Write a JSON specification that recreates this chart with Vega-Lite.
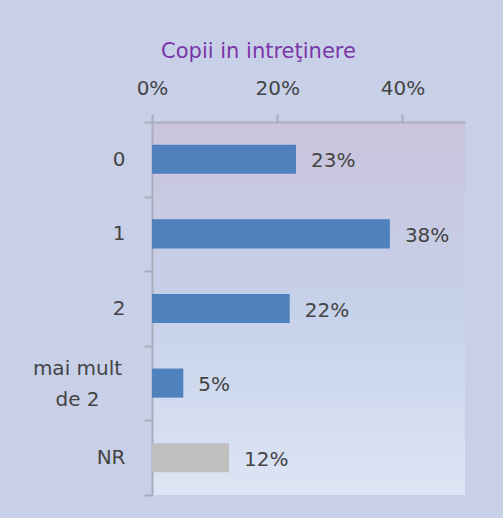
{
  "$schema": "https://vega.github.io/schema/vega-lite/v6.json",
  "autosize": {"type": "none"},
  "padding": {"left": 152, "top": 122, "right": 38, "bottom": 23},
  "width": 313,
  "height": 373,
  "background": "#C8D0E8",
  "title": {
    "text": "Copii in intreţinere",
    "color": "#7A35A8",
    "font": "DejaVu Sans",
    "fontSize": 21,
    "fontWeight": "normal",
    "anchor": "middle",
    "dx": -50,
    "offset": 16
  },
  "config": {
    "view": {
      "stroke": null,
      "fill": {
        "gradient": "linear",
        "x1": 0, "y1": 0, "x2": 0, "y2": 1,
        "stops": [
          {"offset": 0, "color": "#CBC3DC"},
          {"offset": 0.5, "color": "#C6D1EA"},
          {"offset": 1, "color": "#DDE5F4"}
        ]
      }
    },
    "axis": {
      "labelFont": "DejaVu Sans",
      "labelFontSize": 20,
      "labelColor": "#444444",
      "domainColor": "#A9ADBC",
      "domainWidth": 2,
      "tickColor": "#A9ADBC",
      "tickWidth": 2,
      "tickSize": 8,
      "grid": false,
      "title": null
    }
  },
  "data": {
    "values": [
      {"categorie": "0", "procent": 0.23, "grup": "da"},
      {"categorie": "1", "procent": 0.38, "grup": "da"},
      {"categorie": "2", "procent": 0.22, "grup": "da"},
      {"categorie": "mai mult de 2", "procent": 0.05, "grup": "da"},
      {"categorie": "NR", "procent": 0.123, "grup": "nr"}
    ]
  },
  "encoding": {
    "y": {
      "field": "categorie",
      "type": "nominal",
      "sort": null,
      "scale": {"paddingInner": 0, "paddingOuter": 0},
      "axis": {
        "orient": "left",
        "tickBand": "extent",
        "labelLineHeight": 31,
        "labelAlign": {"condition": {"test": "datum.value == 'mai mult de 2'", "value": "center"}, "value": "right"},
        "labelPadding": {"condition": {"test": "datum.value == 'mai mult de 2'", "value": 67}, "value": 19},
        "labelOffset": {"condition": {"test": "datum.value == 'mai mult de 2'", "value": -15}, "value": 0},
        "labelExpr": "datum.value == 'mai mult de 2' ? ['mai mult', 'de 2'] : datum.value"
      }
    },
    "x": {
      "field": "procent",
      "type": "quantitative",
      "scale": {"domain": [0, 0.5], "nice": false},
      "axis": {
        "orient": "top",
        "values": [0, 0.2, 0.4],
        "format": ".0%",
        "labelFlush": false,
        "labelPadding": 16
      }
    }
  },
  "layer": [
    {
      "mark": {"type": "bar", "height": {"band": 0.39}},
      "encoding": {
        "color": {
          "field": "grup",
          "type": "nominal",
          "scale": {"domain": ["da", "nr"], "range": ["#4F81BD", "#BFBFBF"]},
          "legend": null
        }
      }
    },
    {
      "mark": {"type": "text", "align": "left", "dx": 15, "dy": 2, "font": "DejaVu Sans", "fontSize": 20, "color": "#444444"},
      "encoding": {
        "text": {"field": "procent", "type": "quantitative", "format": ".0%"}
      }
    }
  ]
}
